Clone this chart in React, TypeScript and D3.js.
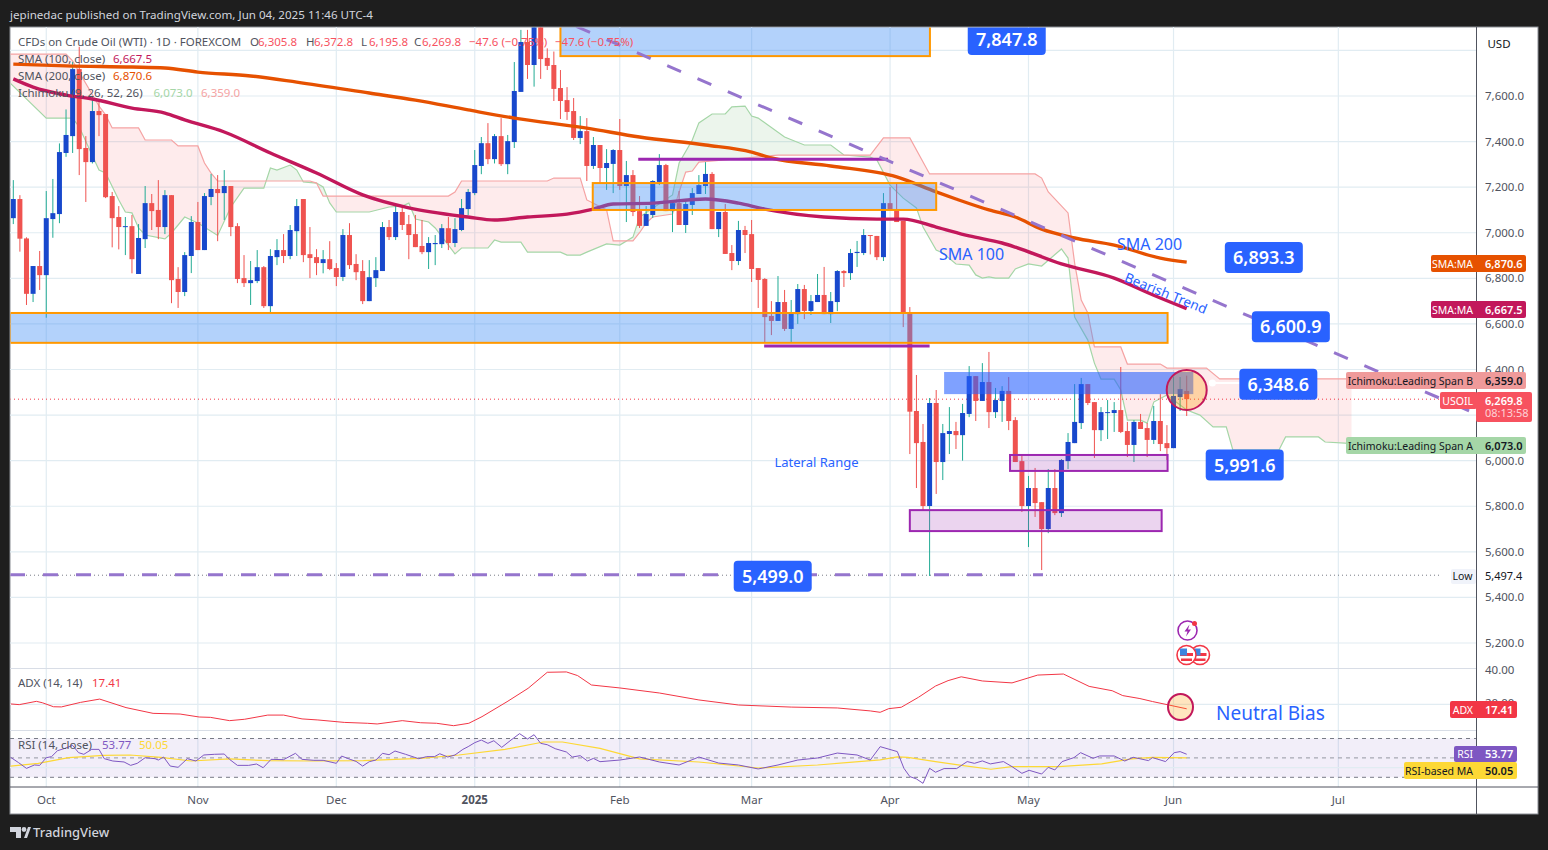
import React from "react";
import * as d3 from "d3";

// daily candles (bar 0 = first visible bar)
const opens = [
  7064,7148,6975,6732,6854,6814,7060,7082,7350,7424,
  7718,7372,7310,7534,7521,7161,7069,7025,7029,6819,
  6972,7130,7100,7025,7165,6797,6740,6898,7047,6924,
  7157,7192,7174,7205,7029,6801,6779,6788,6849,6678,
  6893,6924,6898,7007,7148,6906,6893,6867,6884,6845,
  6806,6990,6863,6832,6700,6801,6832,7025,6981,7091,
  7038,6994,6942,6915,6950,6950,7020,6955,7012,7104,
  7174,7293,7393,7323,7424,7301,7398,7618,7837,7736,
  7960,7767,7736,7635,7582,7534,7416,7446,7293,7385,
  7284,7302,7363,7205,7253,7095,7030,7078,7223,7297,
  7095,7130,7034,7122,7170,7205,7258,7016,7091,6911,
  6876,7012,6994,6845,6797,6635,6613,6696,6578,6643,
  6753,6657,6696,6727,6643,6696,6832,6823,6911,6911,
  6990,6986,6893,7130,7104,7052,6648,6218,6082,5801,
  6253,5994,6117,6130,6112,6205,6371,6262,6345,6213,
  6262,6306,6178,5998,5801,5880,5818,5700,5880,5770,
  5998,6077,6165,6336,6257,6134,6209,6209,6222,6130,
  6069,6170,6143,6091,6174,6077,6055,6279,6306,
];
const highs = [
  7231,7165,6980,6854,6920,7183,7236,7392,7541,7750,
  7816,7424,7597,7575,7521,7179,7117,7069,7078,7038,
  7205,7170,7231,7187,7165,6849,6915,7073,7135,7174,
  7258,7253,7275,7205,7042,6902,6876,6924,6854,6928,
  6972,6994,7034,7148,7148,7025,6928,6924,6963,6867,
  7016,7042,6906,6880,6880,6893,7047,7056,7121,7114,
  7078,7078,7056,6981,6990,7038,7069,7064,7148,7192,
  7363,7420,7481,7433,7503,7429,7749,7890,7890,8000,
  8000,7809,7795,7714,7639,7591,7512,7503,7420,7385,
  7367,7367,7499,7315,7275,7161,7117,7231,7345,7302,
  7130,7183,7144,7196,7253,7310,7266,7091,7126,6946,
  7052,7030,7056,6845,6801,6700,6810,6749,6705,6775,
  6771,6727,6819,6850,6740,6836,6836,6929,6964,7016,
  6990,6986,7174,7201,7218,7052,6674,6376,6161,6275,
  6310,6161,6235,6170,6249,6415,6371,6428,6477,6319,
  6327,6367,6191,6025,5933,5968,5818,5963,5963,6007,
  6121,6336,6363,6336,6257,6235,6266,6257,6411,6170,
  6178,6205,6165,6240,6292,6156,6369,6367,6373,
];
const lows = [
  7038,6917,6683,6696,6749,6627,6978,7042,7333,7350,
  7253,7135,7304,7424,7152,6936,6927,6902,6822,6819,
  6933,7012,6972,6994,6691,6670,6722,6823,6924,6924,
  7121,6963,7056,6985,6779,6762,6683,6779,6670,6648,
  6858,6867,6884,6898,6871,6801,6814,6822,6836,6766,
  6788,6841,6792,6687,6700,6762,6832,6968,6968,7012,
  6884,6937,6906,6841,6858,6933,6924,6937,7007,7078,
  7165,7257,7301,7304,7293,7257,7372,7618,7675,7641,
  7675,7714,7578,7499,7495,7407,7389,7227,7280,7220,
  7188,7174,7188,7047,7073,7021,7030,7065,7209,7095,
  7003,7034,6999,7078,7170,7170,7016,6981,6907,6836,
  6858,6911,6784,6670,6516,6551,6613,6569,6516,6600,
  6621,6639,6696,6643,6604,6656,6762,6793,6850,6902,
  6905,6880,6876,7100,7047,6586,6029,5880,5783,5494,
  5854,5915,6029,6051,6000,6191,6174,6262,6143,6187,
  6170,6134,5994,5775,5621,5753,5520,5682,5761,5753,
  5963,6077,6139,6244,6012,6086,6095,6126,6121,6016,
  5994,6139,6016,6073,6042,6003,6055,6218,6196,
];
const closes = [
  7148,6974,6732,6854,6814,7064,7086,7354,7429,7718,
  7367,7310,7534,7516,7156,7064,7025,7029,6884,6977,
  7130,7095,7025,7165,6792,6740,6902,7047,6924,7161,
  7192,7174,7205,7025,6797,6779,6792,6849,6678,6898,
  6924,6898,7012,7117,6902,6889,6867,6884,6841,6806,
  6990,6858,6827,6700,6805,6836,7025,6981,7091,7034,
  6990,6937,6915,6955,6955,7020,6955,7016,7108,7179,
  7297,7393,7323,7424,7301,7402,7622,7837,7736,7960,
  7762,7732,7631,7578,7530,7416,7446,7293,7385,7284,
  7306,7363,7205,7253,7091,7030,7082,7227,7297,7095,
  7130,7034,7126,7174,7209,7258,7016,7091,6907,6876,
  7012,6990,6841,6793,6630,6613,6696,6578,6648,6753,
  6657,6700,6727,6643,6700,6832,6823,6911,6916,6990,
  6986,6893,7130,7100,7047,6648,6215,6077,5801,6253,
  5994,6121,6130,6112,6209,6371,6262,6345,6213,6266,
  6306,6174,5994,5801,5880,5814,5700,5880,5770,6003,
  6082,6170,6336,6253,6134,6213,6213,6222,6126,6069,
  6170,6139,6091,6174,6073,6055,6284,6314,6270,
];

// moving averages, knots only
const sma200Bars = [0,8,18,23,28,36,43,54,61,69,76,87,95,105,112,115,124,134,140,143,148,152,156,161,167,174,178];
const sma200Values = [7740,7732,7727,7723,7705,7688,7661,7613,7582,7539,7503,7459,7420,7385,7354,7328,7293,7245,7179,7148,7100,7069,7016,6977,6946,6889,6871];
const sma100Bars = [0,3,8,12,18,23,26,32,39,46,53,60,69,73,78,84,88,91,97,105,110,114,123,131,135,140,145,150,152,159,167,173,178];
const sma100Values = [7675,7639,7604,7587,7547,7525,7495,7442,7350,7262,7166,7109,7069,7056,7069,7082,7104,7126,7130,7148,7130,7104,7069,7060,7060,7025,6986,6955,6937,6863,6801,6726,6667];

// ichimoku cloud edges
const spanABars = [-0.5,5,9,10,13,14,16,17,18,19,20,23,24,26,28,31,33,35,38,39,40,42,43,44,46,47,48,49,54,57,59,60,61,63,64,66,67,68,72,73,74,77,78,83,84,86,87,90,92,94,95,100,101,103,104,106,108,109,111,112,113,117,120,124,126,130,131,133,135,137,138,140,141,143,145,146,147,148,149,151,152,154,156,159,160,161,163,164,165,167,168,169,171,172,173,175,178,180,182,184,185,192,193,198,199,202,203];
const spanAValues = [7657,7503,7503,7464,7275,7262,7144,7091,7087,7021,6990,6973,6999,7069,7043,6988,7113,7196,7196,7284,7275,7297,7275,7223,7218,7201,7131,7091,7091,7113,7117,7130,7060,7047,7021,6946,6907,6933,6933,6968,6959,6959,6915,6915,6902,6902,6915,6951,6946,6981,7069,7166,7306,7407,7482,7521,7521,7552,7556,7512,7503,7420,7385,7385,7341,7332,7319,7209,7152,7109,7025,6924,6911,6863,6858,6815,6801,6806,6801,6801,6841,6863,6854,6929,6889,6630,6529,6428,6358,6358,6310,6178,6178,6165,6257,6288,6222,6200,6148,6148,6047,6047,6104,6104,6082,6077,6073];
const spanBBars = [-0.5,8,9,13,14,15,19,20,24,25,28,29,30,31,45,46,47,66,67,68,81,82,86,87,90,91,94,95,96,97,100,101,102,103,104,116,130,132,136,139,155,156,157,160,161,162,163,164,168,169,174,175,181,183,203];
const spanBValues = [7784,7784,7754,7556,7517,7460,7460,7407,7407,7381,7381,7306,7262,7227,7227,7218,7161,7161,7179,7227,7227,7240,7240,7144,7100,6964,6964,7000,7043,7069,7082,7179,7266,7271,7310,7341,7341,7416,7416,7258,7258,7240,7179,7087,6867,6705,6648,6499,6499,6424,6424,6406,6406,6359,6359];

// lower panes
const adxBars = [-0.4,0.9,3.5,4.4,6.1,7.3,10.2,13.1,17.1,21.2,25.3,28.2,29.9,32.8,35.1,38.6,41,43.8,46.2,50.2,53.7,55.2,59,61.8,64.2,66.8,69.1,71.1,74.9,78.1,81,83.9,85.6,87.7,92,98,104,110,118,125,130,131.5,132.8,134.7,137.3,139.9,141.8,143.8,147,151.5,155.4,159.3,163.2,166.7,168.3,170.9,172.8,178];
const adxValues = [20.2,19.8,21.7,20.9,18.6,18.5,21.1,23,18.1,14.8,14.4,12.7,12.5,10.6,11.4,13.8,13.8,11.6,11,9.6,9.1,8.7,10.6,9.4,9.1,7.7,9.1,12.9,21.5,29.2,38.4,38.6,36.5,31.1,29.4,26.5,22.5,19.6,18.4,17.9,16.2,15.4,17.5,18.3,24,30.5,33.6,35.8,33.4,32.3,36.8,37.4,30.3,27.8,25,23.3,21.6,17.41];
const rsiBars = [-0.4,0.8,2,3.2,4,5,5.8,6.7,7.8,9,9.9,10.7,11.9,13,13.8,15.1,16.8,17.8,18.8,20,21.5,22,22.8,23.8,25,26.4,27.7,28.9,30.5,32,32.8,34,35.7,36.9,37.9,39.1,41,42.8,43.8,45.6,47,49,49.8,51.1,52,53,54,55,56,57,57.9,59.5,61.5,62.7,63.9,64.7,65.9,67,68.2,69,70,71,72,72.9,74.1,75.5,76.8,78,79,80,81,82.2,83.9,84.8,86,87.1,88,89,92,95,98,101,104,107,110,113,116,119,122,125,128,130,131.5,134.1,135.1,136,137,138,139,139.9,141.2,143.1,144.7,145.8,147,148.2,150.2,151.5,153,154.1,156,157,158,159.1,160.9,161.9,163.8,164.8,167,168.6,169.9,172.2,172.8,174.8,176.1,177,178];
const rsiValues = [50.6,45.1,39.2,42.7,42.3,50.2,51.3,57.4,59.8,62.9,55.4,53.7,58.8,58.8,49.2,46.8,45.8,42.3,44.4,50.2,49.2,47.8,50.9,41.6,40.3,49.2,46.8,53,53.7,54,48.5,42.3,42.3,43.7,39.9,48.5,48.2,54.7,48.5,47.5,47.5,44.4,51.9,48.5,46.4,41.6,46.1,47.8,54.7,53.3,57.1,53.7,49.2,51.3,51.3,54.3,50.9,53,58.8,61.6,65.7,68.4,65,67.7,60.9,68.4,75,69.5,73.9,65,63.6,59.5,56.1,50.9,52.3,46.8,49.5,46.1,47.8,50.9,45.8,42.7,50.9,44.7,42.7,38.6,42.7,47.8,49.9,55,53,47.8,61.6,56.5,39.3,30.7,28.3,23.8,39.3,35.2,39,39,46.2,44.4,46.9,43.8,46.2,41,34.1,37.2,33.4,40.3,37.6,46.2,50.3,55.4,49.6,52,52,46.8,50.6,47.2,50.3,46.2,55.4,56.5,53.77];
const rsiMaBars = [-0.4,3.8,8.4,13.7,17.7,22.4,27,32.8,38.6,45.6,53.1,61.8,67.6,74.6,80.4,83.3,89,95,104,113,122,131.5,134.1,135.7,139.9,144.4,148.3,151.5,158.6,165.1,169.6,172.8,178];
const rsiMaValues = [41.6,44.4,50.2,52.6,53,50.6,46.8,48.9,47.1,46.8,47.1,49.5,53,58.8,66.4,66.4,59.8,49,45.8,39.6,42.7,47.9,51,50.6,46.2,41.7,38.3,41,41,43.8,48.9,50.6,50.05];

// axes
const priceTicks = [7800,7600,7400,7200,7000,6800,6600,6400,6200,6000,5800,5600,5400,5200];
const priceLabels = [7600,7400,7200,7000,6800,6600,6400,6000,5800,5600,5400,5200];
const monthBars = [5,28,49,70,92,112,133,154,176,201];
const monthNames = ["Oct","Nov","Dec","2025","Feb","Mar","Apr","May","Jun","Jul"];

// drawn levels from the idea
const calloutValues = [7847.8,6893.3,6600.9,6348.6,5991.6,5499.0];
const calloutBars = [150.7,189.7,193.8,191.9,186.8,115.2];
const calloutNudge = [0,0.5,3,3,2.5,1.5];

const W = 1548;
const H = 850;
const F = "'Noto Sans', 'Open Sans', sans-serif";
const BLUE = "#2962ff";
const UP = "#1848cc";
const UP_WICK = "#22ab94";
const DOWN = "#ef5350";
const GRID = "#e1ecf2";

const x = d3.scaleLinear().domain([0, 178]).range([13.3, 1186.7]);
const y = d3.scaleLinear().domain([7600, 5200]).range([96, 643]);
const adxY = d3.scaleLinear().domain([40, 20]).range([669.5, 704.3]);
const rsiY = d3.scaleLinear().domain([70, 30]).range([738.5, 777.3]);
const fmt = d3.format(",.1f");

const lineOf = (bars: number[], vals: number[], sy: (v: number) => number) =>
  d3.line<number>().x((b) => x(b)).y((_, i) => sy(vals[i])).curve(d3.curveLinear)(bars) as string;
const smoothOf = (bars: number[], vals: number[]) =>
  d3.line<number>().x((b) => x(b)).y((_, i) => y(vals[i])).curve(d3.curveMonotoneX)(bars) as string;

const spanAAt = d3.scaleLinear().domain(spanABars).range(spanAValues);
const spanBAt = d3.scaleLinear().domain(spanBBars).range(spanBValues);
const cloudGrid = d3.range(-0.5, 203.01, 0.25);
const redCloud = d3.area<number>().x((b) => x(b)).y0((b) => y(spanAAt(b))).y1((b) => y(Math.max(spanAAt(b), spanBAt(b))))(cloudGrid) as string;
const greenCloud = d3.area<number>().x((b) => x(b)).y0((b) => y(spanBAt(b))).y1((b) => y(Math.max(spanAAt(b), spanBAt(b))))(cloudGrid) as string;

// zone = [bar from, bar to, upper price, lower price]
const orangeZones = [
  [83, 139.05, 7960, 7775],
  [87.9, 140, 7218, 7100],
  [-0.5, 175.1, 6648, 6517],
];
const blueZone = [141.2, 179, 6389, 6292];
const purpleZones = [
  [151.2, 175.1, 6025, 5955],
  [136, 174.2, 5783, 5691],
];

function Zone({ z, fill, stroke }: { z: number[]; fill: string; stroke?: string }) {
  return (
    <rect x={x(z[0])} y={y(z[2])} width={x(z[1]) - x(z[0])} height={y(z[3]) - y(z[2])} fill={fill} stroke={stroke || "none"} strokeWidth={2} />
  );
}

function Tag({ x0, x1, top, h = 17, color, label, value, dark }: any) {
  const ink = dark ? "#131722" : "#fff";
  return (
    <g fontFamily={F} fontSize={10.5} fill={ink}>
      <rect x={x0} y={top} width={x1 - x0} height={h} rx={2} fill={color} />
      <text x={1473} y={top + h / 2 + 4} textAnchor="end">{label}</text>
      <text x={1485} y={top + h / 2 + 4} fontSize={11} fontWeight={600}>{value}</text>
    </g>
  );
}

function UsFlag({ cx, cy }: { cx: number; cy: number }) {
  return (
    <g>
      <circle cx={cx} cy={cy} r={9.5} fill="#fff" stroke="#f23645" strokeWidth={1.6} />
      <rect x={cx - 6.5} y={cy - 2} width={13} height={3} fill="#f23645" />
      <rect x={cx - 5.5} y={cy + 3.5} width={11} height={2.5} fill="#f23645" />
      <rect x={cx - 6.5} y={cy - 6.5} width={7} height={7} fill="#3d85e0" />
    </g>
  );
}

export default function App() {
  return (
    <svg width={W} height={H} viewBox={`0 0 ${W} ${H}`} style={{ position: "absolute", left: 0, top: 0 }}>
      <defs>
        <clipPath id="main"><rect x={10.5} y={27.5} width={1465.5} height={640.5} /></clipPath>
        <clipPath id="adx"><rect x={10.5} y={669} width={1465.5} height={61} /></clipPath>
      </defs>
      <rect width={W} height={H} fill="#1e1e1e" />
      <rect x={10} y={27} width={1528} height={787} fill="#fff" stroke="#8a8d94" />
      <text x={10} y={19} fontFamily={F} fontSize={11.6} fill="#d1d4dc">jepinedac published on TradingView.com, Jun 04, 2025 11:46 UTC-4</text>

      {/* grid */}
      {priceTicks.map((p) => <line key={p} x1={10} x2={1476} y1={y(p)} y2={y(p)} stroke={GRID} strokeWidth={1.2} />)}
      {monthBars.map((b) => <line key={b} x1={x(b)} x2={x(b)} y1={27} y2={787} stroke={GRID} strokeWidth={1.2} />)}
      <line x1={10} x2={1476} y1={668.5} y2={668.5} stroke="#d8dde6" strokeWidth={1.2} />
      <line x1={10} x2={1476} y1={704.3} y2={704.3} stroke={GRID} strokeWidth={1.2} />
      <line x1={10} x2={1476} y1={730.5} y2={730.5} stroke="#d8dde6" strokeWidth={1.2} />

      {/* price pane */}
      <g clipPath="url(#main)">
        <path d={redCloud} fill="#f23645" fillOpacity={0.1} />
        <path d={greenCloud} fill="#43a047" fillOpacity={0.1} />
        <path d={lineOf(spanABars, spanAValues, y)} fill="none" stroke="#a5d6a7" strokeWidth={1.2} />
        <path d={lineOf(spanBBars, spanBValues, y)} fill="none" stroke="#f5a3a3" strokeWidth={1.2} />

        <line x1={10} x2={1440} y1={y(5497.4)} y2={y(5497.4)} stroke="#787b86" strokeWidth={1} strokeDasharray="1 3" />
        <line x1={10} x2={1440} y1={y(6269.8)} y2={y(6269.8)} stroke="#f23645" strokeWidth={1} strokeDasharray="1 3" />

        {opens.map((o, i) => {
          const c = closes[i];
          const isUp = c >= o;
          const top = y(Math.max(o, c));
          const bot = y(Math.min(o, c));
          return (
            <g key={i}>
              <line x1={x(i)} x2={x(i)} y1={y(highs[i])} y2={y(lows[i])} stroke={isUp ? UP_WICK : DOWN} strokeWidth={1} />
              <rect x={x(i) - 2.5} y={top} width={5} height={Math.max(bot - top, 1)} fill={isUp ? UP : DOWN} />
            </g>
          );
        })}

        <path d={smoothOf(sma200Bars, sma200Values)} fill="none" stroke="#e65100" strokeWidth={3.4} strokeLinejoin="round" />
        <path d={smoothOf(sma100Bars, sma100Values)} fill="none" stroke="#c2185b" strokeWidth={3.4} strokeLinejoin="round" />

        {orangeZones.map((z, i) => <Zone key={i} z={z} fill="rgba(66,142,245,0.4)" stroke="#ff9800" />)}
        <Zone z={blueZone} fill="rgba(41,98,255,0.6)" />
        {purpleZones.map((z, i) => <Zone key={i} z={z} fill="rgba(156,39,176,0.2)" stroke="#9c27b0" />)}

        <line x1={x(94.8)} x2={x(132.7)} y1={y(7322)} y2={y(7322)} stroke="#9c27b0" strokeWidth={3} />
        <line x1={x(113.9)} x2={x(139)} y1={y(6503)} y2={y(6503)} stroke="#9c27b0" strokeWidth={3} />

        <line x1={x(85.4)} x2={x(221.3)} y1={y(7905)} y2={y(6213)} stroke="#9575cd" strokeWidth={3} strokeDasharray="15 18" />
        <line x1={x(-0.5)} x2={x(156.2)} y1={y(5499)} y2={y(5499)} stroke="#9575cd" strokeWidth={3} strokeDasharray="15 18" />

        <circle cx={x(178)} cy={y(6310)} r={20} fill="rgba(255,152,0,0.3)" stroke="#c2185b" strokeWidth={2} />
        <line x1={x(181.9)} x2={x(187)} y1={383} y2={383} stroke="#fff" strokeWidth={2} />
        <circle cx={x(181.9)} cy={383} r={3.5} fill="#fff" />

        {/* callouts */}
        {calloutValues.map((v, i) => {
          const cx = x(calloutBars[i]);
          const cy = y(v) + calloutNudge[i];
          return (
            <g key={v}>
              <rect x={cx - 39} y={cy - 15.5} width={78} height={31} rx={4} fill={BLUE} />
              <text x={cx} y={cy + 6.5} textAnchor="middle" fontFamily={F} fontWeight={600} fontSize={18} fill="#fff">{fmt(v)}</text>
            </g>
          );
        })}
      </g>

      <g fontFamily={F} fill={BLUE}>
        <text x={939} y={260} fontSize={16}>SMA 100</text>
        <text x={1117} y={250} fontSize={16}>SMA 200</text>
        <text x={1166} y={298} fontSize={13.5} textAnchor="middle" transform="rotate(22 1166 293)">Bearish Trend</text>
        <text x={816.5} y={467} fontSize={13} textAnchor="middle">Lateral Range</text>
        <text x={1216} y={719.5} fontSize={19}>Neutral Bias</text>
      </g>

      {/* event icons */}
      <circle cx={1187.5} cy={630.5} r={9.5} fill="#fff" stroke="#9c27b0" strokeWidth={1.6} />
      <path d="M1189.5 624.5l-5 7h3l-1.5 5 5-7h-3z" fill="#9c27b0" />
      <circle cx={1194.5} cy={623.5} r={2.5} fill="#f23645" />
      <UsFlag cx={1200} cy={655} />
      <UsFlag cx={1186.5} cy={655} />

      {/* legend */}
      <g fontFamily={F} fontSize={11.5} fill="#50535e">
        <text x={18} y={46}>CFDs on Crude Oil (WTI) · 1D · FOREXCOM</text>
        <text x={250} y={46}>O</text>
        <text x={306} y={46}>H</text>
        <text x={361} y={46}>L</text>
        <text x={414} y={46}>C</text>
        <g fill="#f7525f">
          <text x={258} y={46}>6,305.8</text>
          <text x={314} y={46}>6,372.8</text>
          <text x={369} y={46}>6,195.8</text>
          <text x={422} y={46}>6,269.8</text>
          <text x={469} y={46}>−47.6 (−0.75%)</text>
          <text x={555} y={46}>−47.6 (−0.75%)</text>
        </g>
        <text x={18} y={63}>SMA (100, close)</text>
        <text x={113} y={63} fill="#c2185b">6,667.5</text>
        <text x={18} y={80}>SMA (200, close)</text>
        <text x={113} y={80} fill="#e65100">6,870.6</text>
        <text x={18} y={97}>Ichimoku (9, 26, 52, 26)</text>
        <text x={153.5} y={97} fill="#a5d6a7">6,073.0</text>
        <text x={201} y={97} fill="#f5a3a3">6,359.0</text>
      </g>

      {/* ADX pane */}
      <g clipPath="url(#adx)">
        <path d={lineOf(adxBars, adxValues, adxY)} fill="none" stroke="#f23645" strokeWidth={1} />
      </g>
      <ellipse cx={1180.5} cy={707} rx={12.5} ry={13} fill="rgba(255,152,0,0.25)" stroke="#c2185b" strokeWidth={2} />
      <g fontFamily={F} fontSize={11.5} fill="#50535e">
        <text x={18} y={687}>ADX (14, 14)</text>
        <text x={92} y={687} fill="#f23645">17.41</text>
      </g>

      {/* RSI pane */}
      <rect x={10} y={rsiY(70)} width={1466} height={rsiY(30) - rsiY(70)} fill="#7e57c2" fillOpacity={0.1} />
      <line x1={10} x2={1476} y1={rsiY(40)} y2={rsiY(40)} stroke={GRID} strokeWidth={1.2} />
      {[70, 30].map((v) => <line key={v} x1={10} x2={1476} y1={rsiY(v)} y2={rsiY(v)} stroke="#787b86" strokeDasharray="4 4" />)}
      <line x1={10} x2={1476} y1={rsiY(50)} y2={rsiY(50)} stroke="#9598a1" strokeDasharray="4 4" />
      <path d={lineOf(rsiMaBars, rsiMaValues, rsiY)} fill="none" stroke="#fdd835" strokeWidth={1.2} />
      <path d={lineOf(rsiBars, rsiValues, rsiY)} fill="none" stroke="#7e57c2" strokeWidth={1} />
      <g fontFamily={F} fontSize={11.5} fill="#50535e">
        <text x={18} y={749}>RSI (14, close)</text>
        <text x={102} y={749} fill="#7e57c2">53.77</text>
        <text x={139} y={749} fill="#fdd835">50.05</text>
      </g>

      {/* axes */}
      <line x1={10} x2={1538} y1={787} y2={787} stroke="#50535e" />
      <line x1={1476.5} x2={1476.5} y1={27} y2={814} stroke="#50535e" />
      <g fontFamily={F} fontSize={11.5} fill="#50535e">
        {priceLabels.map((p) => <text key={p} x={1485} y={y(p) + 4}>{fmt(p)}</text>)}
        <text x={1485} y={674}>40.00</text>
        <text x={1485} y={707}>20.00</text>
        <text x={1499} y={48} textAnchor="middle" fill="#131722">USD</text>
        {monthNames.map((m, i) => (
          <text key={m} x={x(monthBars[i])} y={804} textAnchor="middle" fontWeight={m === "2025" ? 700 : 400}>{m}</text>
        ))}
      </g>

      {/* axis tags */}
      <Tag x0={1431} x1={1526} top={255} color="#e65100" label="SMA:MA" value="6,870.6" />
      <Tag x0={1431} x1={1526} top={301} color="#c2185b" label="SMA:MA" value="6,667.5" />
      <Tag x0={1346} x1={1526} top={372} color="#ef9a9a" label="Ichimoku:Leading Span B" value="6,359.0" dark />
      <Tag x0={1346} x1={1526} top={437} color="#a5d6a7" label="Ichimoku:Leading Span A" value="6,073.0" dark />
      <rect x={1440} y={392} width={37} height={17} rx={2} fill="#f7525f" />
      <rect x={1476} y={392} width={56} height={30} rx={2} fill="#f7525f" />
      <g fontFamily={F} fontSize={11} fill="#fff">
        <text x={1473} y={404.5} textAnchor="end" fontSize={10.5}>USOIL</text>
        <text x={1485} y={404.5} fontWeight={600}>6,269.8</text>
        <text x={1485} y={417} fillOpacity={0.75}>08:13:58</text>
      </g>
      <rect x={1451} y={569} width={25} height={15} rx={2} fill="#f0f3fa" />
      <text x={1462.5} y={580} fontFamily={F} fontSize={10.5} fill="#131722" textAnchor="middle">Low</text>
      <text x={1485} y={580} fontFamily={F} fontSize={11} fill="#131722">5,497.4</text>
      <Tag x0={1450} x1={1517} top={701} color="#f23645" label="ADX" value="17.41" />
      <Tag x0={1454} x1={1517} top={746} h={16} color="#7e57c2" label="RSI" value="53.77" />
      <Tag x0={1404} x1={1517} top={762} color="#fdd835" label="RSI-based MA" value="50.05" dark />

      {/* footer */}
      <g fill="#d1d4dc">
        <path d="M10 827h11v11h-5v-6h-6z" />
        <circle cx={24} cy={829.5} r={2.4} />
        <path d="M24 838l4-11h3l-4 11z" />
        <text x={33} y={837} fontFamily={F} fontSize={13} fontWeight={500}>TradingView</text>
      </g>
    </svg>
  );
}
